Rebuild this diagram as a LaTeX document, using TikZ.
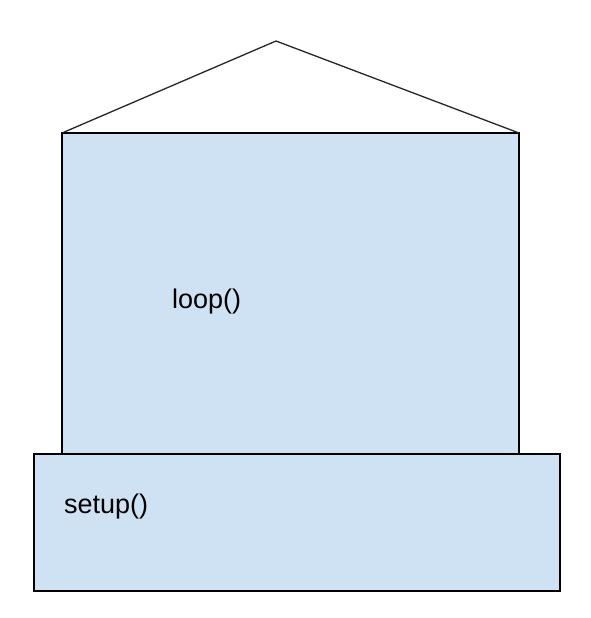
\documentclass[tikz,border=0pt]{standalone}
\usepackage{fontspec}
\setmainfont{Liberation Sans}
\definecolor{boxblue}{HTML}{CFE2F3}
\begin{document}
\begin{tikzpicture}[x=1pt,y=-1pt,
  blockbox/.style={draw=black,fill=boxblue,line width=1.3pt},
  lbl/.style={anchor=base west,inner sep=0pt,font=\fontsize{27}{31}\selectfont}]
\useasboundingbox (0,0) rectangle (590,618);
\draw[blockbox] (62,133) rectangle (519,454);
\draw[blockbox] (34,454) rectangle (560,591);
\coordinate (roofL) at (62,133);
\coordinate (roofT) at (276,41);
\coordinate (roofR) at (519,133);
\draw[line width=1.3pt,draw=black!85] (roofL) -- (roofT) -- (roofR);
\node[lbl] (loop) at (172,308) {loop()};
\node[lbl] (setup) at (64,513) {setup()};
\end{tikzpicture}
\end{document}
